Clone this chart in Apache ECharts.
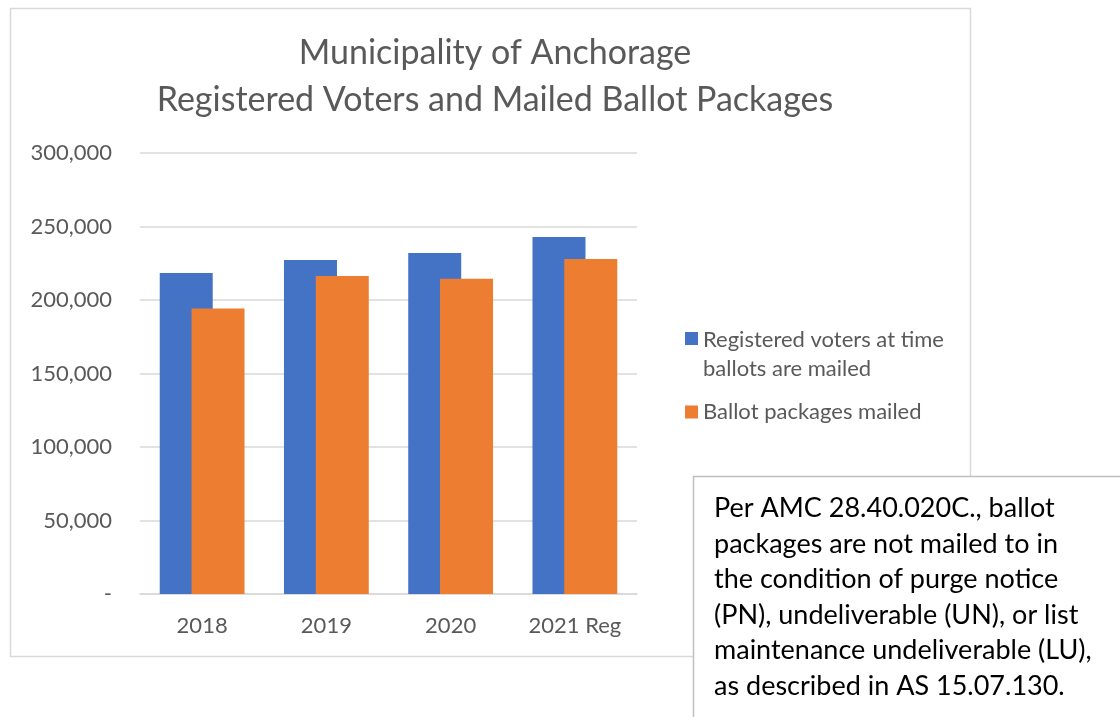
<!DOCTYPE html>
<html><head><meta charset="utf-8">
<script src="https://cdn.jsdelivr.net/npm/echarts@6/dist/echarts.min.js"></script>
<style>html,body{margin:0;padding:0;background:#fff}#c{width:1120px;height:717px}</style>
</head><body><div id="c"></div>
<script>
const categories = ['2018', '2019', '2020', '2021 Reg'];
const registeredVoters = [218400, 227200, 232000, 242900];
const ballotsMailed = [194300, 216300, 214500, 227900];
const seriesNames = ['Registered voters at time\nballots are mailed', 'Ballot packages mailed'];
const titleLines = ['Municipality of Anchorage', 'Registered Voters and Mailed Ballot Packages'];
const noteText = 'Per AMC 28.40.020C., ballot\npackages are not mailed to in\nthe condition of purge notice\n(PN), undeliverable (UN), or list\nmaintenance undeliverable (LU),\nas described in AS 15.07.130.';

const FONT = 'Lato';
const chart = echarts.init(document.getElementById('c'));
chart.setOption({
  animation: false,
  backgroundColor: '#fff',
  textStyle: { fontFamily: FONT },
  title: {
    text: titleLines.join('\n'),
    left: 490, top: 25, textAlign: 'center',
    textStyle: { fontFamily: FONT, fontWeight: 'normal', fontSize: 34, color: '#595959', lineHeight: 47 }
  },
  legend: {
    orient: 'vertical', left: 680, top: 320, itemGap: 7,
    itemWidth: 13, itemHeight: 44,
    textStyle: { fontFamily: FONT, fontSize: 22, color: '#595959', lineHeight: 29 },
    data: [
      { name: seriesNames[0], icon: 'path://M0,0L13,0L13,13L0,13Z M0,44L0.01,44' },
      { name: seriesNames[1], icon: 'path://M0,0L0.01,0 M0,15.5L13,15.5L13,28.5L0,28.5Z M0,44L0.01,44' }
    ]
  },
  grid: { left: 140, right: 483, top: 153, bottom: 123, containLabel: false },
  xAxis: {
    type: 'category', data: categories,
    axisLine: { show: true, lineStyle: { color: '#d9d9d9', width: 1.5 } },
    axisTick: { show: false },
    axisLabel: { fontFamily: FONT, fontSize: 22, color: '#595959', margin: 21 }
  },
  yAxis: {
    type: 'value', min: 0, max: 300000, interval: 50000,
    axisLine: { show: false }, axisTick: { show: false },
    splitLine: { lineStyle: { color: '#d9d9d9', width: 1.5 } },
    axisLabel: {
      fontFamily: FONT, fontSize: 22, color: '#595959', margin: 28,
      formatter: v => v === 0 ? '-' : v.toLocaleString('en-US')
    }
  },
  series: [
    { name: seriesNames[0], type: 'bar', data: registeredVoters, barWidth: 53, barGap: '-40%',
      itemStyle: { color: '#4472C4' } },
    { name: seriesNames[1], type: 'bar', data: ballotsMailed, barWidth: 53, barGap: '-40%',
      itemStyle: { color: '#ED7D31' } }
  ],
  graphic: [
    { type: 'rect', z: -10, shape: { x: 10.5, y: 8.5, width: 960, height: 648 },
      style: { fill: 'none', stroke: '#d9d9d9', lineWidth: 1.5 } },
    { type: 'rect', z: 100, shape: { x: 693.5, y: 476.5, width: 440, height: 260 },
      style: { fill: '#fff', stroke: '#bfbfbf', lineWidth: 1.5 } },
    { type: 'text', z: 101, left: 714, top: 491,
      style: { text: noteText, fontFamily: FONT, fontSize: 27, lineHeight: 35.5, fill: '#000' } }
  ]
});
</script></body></html>
